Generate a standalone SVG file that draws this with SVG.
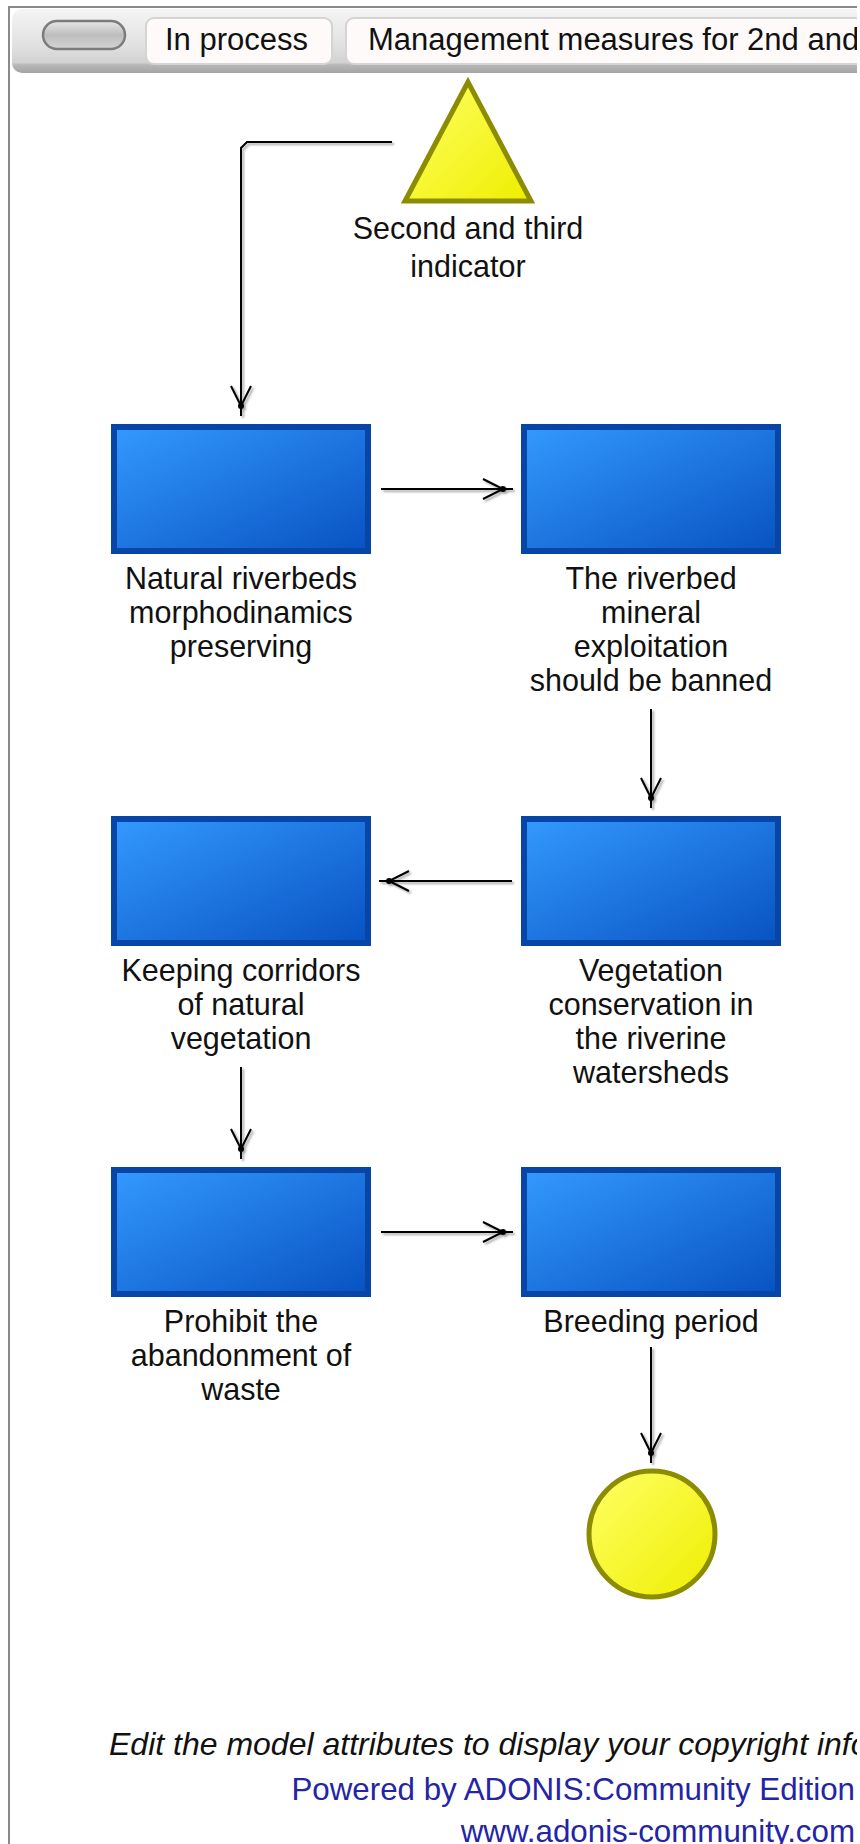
<svg xmlns="http://www.w3.org/2000/svg" width="860" height="1844" viewBox="0 0 860 1844">
  <defs>
    <style>
      .lbl { font-family: "Liberation Sans", Arial, sans-serif; font-size: 30.5px; fill: #111; text-anchor: middle; }
      .tab { font-family: "Liberation Sans", Arial, sans-serif; font-size: 31px; fill: #111; }
      .act { stroke: #0746a6; stroke-width: 6; fill: url(#actFill); }
      .evt { stroke: #8c8c00; stroke-width: 5; fill: url(#evtFill); }
      .conn { fill: none; stroke: #000; stroke-width: 2; }
      .foot { font-family: "Liberation Sans", Arial, sans-serif; font-size: 31.3px; fill: #2424a6; text-anchor: end; }
      .note { font-family: "Liberation Sans", Arial, sans-serif; font-size: 32px; font-style: italic; fill: #111; }
    </style>
    <linearGradient id="actFill" x1="0" y1="0" x2="1" y2="1">
      <stop offset="0" stop-color="#3399ff"/>
      <stop offset="1" stop-color="#0852c2"/>
    </linearGradient>
    <linearGradient id="evtFill" x1="0" y1="0" x2="1" y2="1">
      <stop offset="0" stop-color="#ffff66"/>
      <stop offset="1" stop-color="#eeee00"/>
    </linearGradient>
    <linearGradient id="barFill" x1="0" y1="0" x2="0" y2="1">
      <stop offset="0" stop-color="#f4f4f4"/>
      <stop offset="0.55" stop-color="#e2e2e2"/>
      <stop offset="0.84" stop-color="#d2d2d2"/>
      <stop offset="0.87" stop-color="#b8b8b8"/>
      <stop offset="1" stop-color="#a4a4a4"/>
    </linearGradient>
    <linearGradient id="pillFill" x1="0" y1="0" x2="0" y2="1">
      <stop offset="0" stop-color="#e8e8e8"/>
      <stop offset="0.5" stop-color="#bdbdbd"/>
      <stop offset="1" stop-color="#d4d4d4"/>
    </linearGradient>
    <clipPath id="frameClip">
      <rect x="0" y="0" width="857" height="1844"/>
    </clipPath>
    <filter id="shadow" x="-5%" y="-5%" width="110%" height="110%">
      <feDropShadow dx="2" dy="2" stdDeviation="1" flood-color="#000" flood-opacity="0.35"/>
    </filter>
    <marker id="arrow" markerUnits="userSpaceOnUse" viewBox="-34 -13 36 26" refX="0" refY="0" markerWidth="36" markerHeight="26" orient="auto">
      <path d="M-30,-10 L-10,0 L-30,10" fill="none" stroke="#000" stroke-width="2"/>
      <circle cx="-10" cy="0" r="3" fill="#000"/>
    </marker>
  </defs>

  <rect width="860" height="1844" fill="#fff"/>

  <!-- model frame and title bar -->
  <g id="frame" clip-path="url(#frameClip)">
    <path d="M9,1850 V7 H858 V1850" fill="none" stroke="#8a8a8a" stroke-width="2"/>
    <rect x="12" y="9" width="870" height="64" rx="10" fill="url(#barFill)"/>
    <rect x="43" y="21" width="82" height="28" rx="14" fill="url(#pillFill)" stroke="#7c7c7c" stroke-width="2.5"/>
    <rect x="146" y="18" width="186" height="46" rx="8" fill="#fffafa" stroke="#d4d4d4" stroke-width="2"/>
    <text class="tab" x="165" y="50">In process</text>
    <rect x="346" y="18" width="540" height="46" rx="8" fill="#fffafa" stroke="#d4d4d4" stroke-width="2"/>
    <text class="tab" x="368" y="50">Management measures for 2nd and</text>
  </g>

  <!-- connectors -->
  <g id="connectors" filter="url(#shadow)">
    <path class="conn" d="M392,142 H247 L241,148 V416" marker-end="url(#arrow)"/>
    <path class="conn" d="M381,489 H513" marker-end="url(#arrow)"/>
    <path class="conn" d="M651,709 V808" marker-end="url(#arrow)"/>
    <path class="conn" d="M512,881 H379" marker-end="url(#arrow)"/>
    <path class="conn" d="M241,1067 V1159" marker-end="url(#arrow)"/>
    <path class="conn" d="M381,1232 H513" marker-end="url(#arrow)"/>
    <path class="conn" d="M651,1347 V1463" marker-end="url(#arrow)"/>
  </g>

  <!-- start event -->
  <g id="start">
    <polygon class="evt" points="468,82 405,201 531,201"/>
    <text class="lbl" x="468" y="239">Second and third</text>
    <text class="lbl" x="468" y="277">indicator</text>
  </g>

  <!-- activities -->
  <g id="natural-riverbeds">
    <rect class="act" x="114" y="427" width="254" height="124"/>
    <text class="lbl" x="241" y="589">Natural riverbeds</text>
    <text class="lbl" x="241" y="623">morphodinamics</text>
    <text class="lbl" x="241" y="657">preserving</text>
  </g>

  <g id="mineral-exploitation">
    <rect class="act" x="524" y="427" width="254" height="124"/>
    <text class="lbl" x="651" y="589">The riverbed</text>
    <text class="lbl" x="651" y="623">mineral</text>
    <text class="lbl" x="651" y="657">exploitation</text>
    <text class="lbl" x="651" y="691">should be banned</text>
  </g>

  <g id="vegetation-conservation">
    <rect class="act" x="524" y="819" width="254" height="124"/>
    <text class="lbl" x="651" y="981">Vegetation</text>
    <text class="lbl" x="651" y="1015">conservation in</text>
    <text class="lbl" x="651" y="1049">the riverine</text>
    <text class="lbl" x="651" y="1083">watersheds</text>
  </g>

  <g id="keeping-corridors">
    <rect class="act" x="114" y="819" width="254" height="124"/>
    <text class="lbl" x="241" y="981">Keeping corridors</text>
    <text class="lbl" x="241" y="1015">of natural</text>
    <text class="lbl" x="241" y="1049">vegetation</text>
  </g>

  <g id="prohibit-waste">
    <rect class="act" x="114" y="1170" width="254" height="124"/>
    <text class="lbl" x="241" y="1332">Prohibit the</text>
    <text class="lbl" x="241" y="1366">abandonment of</text>
    <text class="lbl" x="241" y="1400">waste</text>
  </g>

  <g id="breeding-period">
    <rect class="act" x="524" y="1170" width="254" height="124"/>
    <text class="lbl" x="651" y="1332">Breeding period</text>
  </g>

  <!-- end event -->
  <g id="end">
    <circle class="evt" cx="652" cy="1534" r="63"/>
  </g>

  <!-- footer -->
  <g id="footer" clip-path="url(#frameClip)">
    <text class="note" x="109" y="1755">Edit the model attributes to display your copyright info</text>
    <text class="foot" x="855" y="1800">Powered by ADONIS:Community Edition</text>
    <text class="foot" x="855" y="1842">www.adonis-community.com</text>
  </g>
</svg>
